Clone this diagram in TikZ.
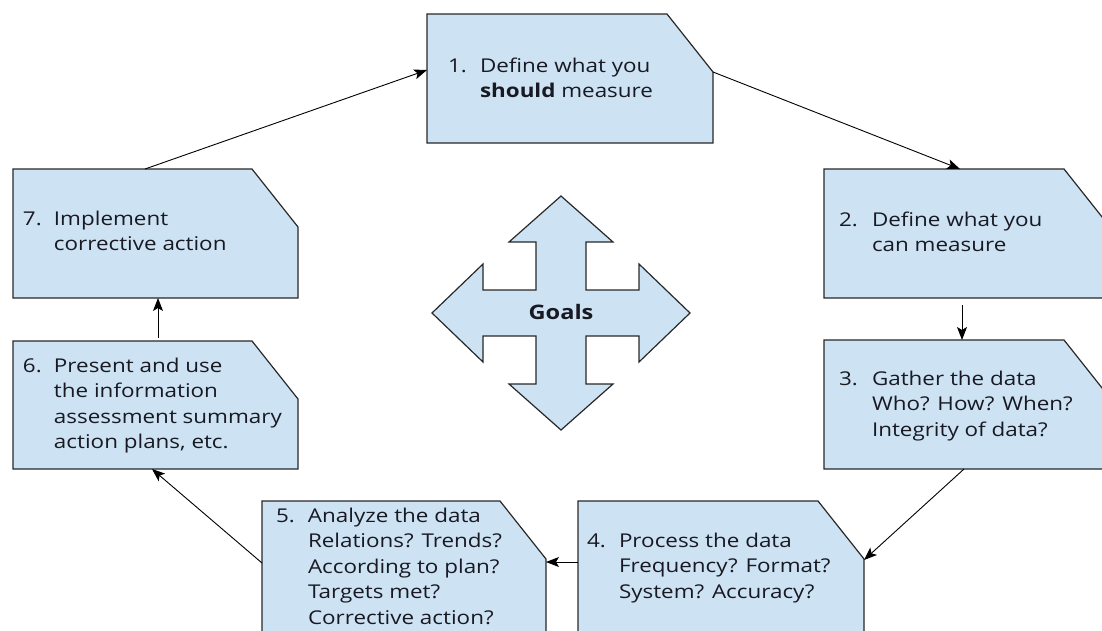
\documentclass[tikz,border=0pt]{standalone}
\usepackage{fontspec}
\setmainfont{Open Sans}[FakeStretch=1.18]
\usetikzlibrary{calc,arrows.meta}
\definecolor{boxfill}{RGB}{205,227,243}
\definecolor{boxedge}{RGB}{40,40,40}
\definecolor{textcol}{RGB}{25,25,35}
\newcommand{\boxtext}[2]{{\fontsize{19}{25.5}\selectfont\begin{tabular}[t]{@{}p{#1}@{}l@{}}#2\end{tabular}}}
\begin{document}
\begin{tikzpicture}[x=1pt,y=-1pt,
  boxarea/.style={rectangle,inner sep=0pt,outer sep=0pt,anchor=north west},
  boxline/.style={draw=boxedge,fill=boxfill,line width=1.2pt,line join=miter},
  txt/.style={inner sep=0pt,outer sep=0pt,anchor=base west,text=textcol},
  conn/.style={draw=black,line width=0.9pt,-{Stealth[length=13pt,width=10pt,inset=3pt]}}
]
\useasboundingbox (0,0) rectangle (1102,630);
\newcommand{\cutbox}[5]{%
  \node[boxarea,minimum width=#4pt,minimum height=#5pt] (#1) at (#2,#3) {};
  \path[boxline] (#1.south west) -- (#1.north west) -- ($(#1.north east)+(-46,0)$)
    -- ($(#1.north east)+(0,58)$) -- (#1.south east) -- cycle;
}
\cutbox{b1}{427}{14}{286}{129}
\cutbox{b2}{824}{169}{286}{129}
\cutbox{b3}{824}{340}{286}{129}
\cutbox{b4}{578}{501}{286}{140}
\cutbox{b5}{262}{501}{284}{140}
\cutbox{b6}{13}{341}{285}{128}
\cutbox{b7}{13}{169}{285}{129}

\node[txt] (t1) at (448,72) {\boxtext{32pt}{1. & Define what you\\ & \textbf{should} measure}};
\node[txt] (t2) at (839,226) {\boxtext{33pt}{2. & Define what you\\ & can measure}};
\node[txt] (t3) at (839,385) {\boxtext{33pt}{3. & Gather the data\\ & Who? How? When?\\ & Integrity of data?}};
\node[txt] (t4) at (587,547) {\boxtext{32pt}{4. & Process the data\\ & Frequency? Format?\\ & System? Accuracy?}};
\node[txt] (t5) at (276,522) {\boxtext{32pt}{5. & Analyze the data\\ & Relations? Trends?\\ & According to plan?\\ & Targets met?\\ & Corrective action?}};
\node[txt] (t6) at (23,372) {\boxtext{31pt}{6. & Present and use\\ & the information\\ & assessment summary\\ & action plans, etc.}};
\node[txt] (t7) at (23,225) {\boxtext{31pt}{7. & Implement\\ & corrective action}};

% Goals cross
\node[inner sep=0pt] (g) at (561,313) {};
\path[boxline] ($(g)+(0,-117)$) -- ++(52,46) -- ++(-27,0) -- ++(0,48) -- ++(53,0) -- ++(0,-26)
  -- ++(51,49) -- ++(-51,49) -- ++(0,-26) -- ++(-53,0) -- ++(0,48) -- ++(27,0)
  -- ++(-52,46) -- ++(-52,-46) -- ++(27,0) -- ++(0,-48) -- ++(-53,0) -- ++(0,26)
  -- ++(-51,-49) -- ++(51,-49) -- ++(0,26) -- ++(53,0) -- ++(0,-48) -- ++(-27,0) -- cycle;
\node[inner sep=0pt,anchor=base,text=textcol] (goals) at ($(g)+(0,6)$) {\fontsize{20}{22}\selectfont\textbf{Goals}};

% connectors
\draw[conn] ($(b7.north west)+(132,0)$) -- ($(b1.north west)+(0,56)$);
\draw[conn] ($(b1.north east)+(0,58)$) -- ($(b2.north west)+(136,0)$);
\draw[conn] ($(b2.south west)+(138,7)$) -- ($(b3.north west)+(138,0)$);
\draw[conn] ($(b3.south west)+(140,0)$) -- ($(b4.north east)+(0,59)$);
\draw[conn] ($(b4.north west)+(0,61)$) -- ($(b5.north east)+(0,61)$);
\draw[conn] ($(b5.north west)+(0,62)$) -- ($(b6.south west)+(139,0)$);
\draw[conn] ($(b6.north west)+(145,-3)$) -- ($(b7.south west)+(145,0)$);
\end{tikzpicture}
\end{document}
